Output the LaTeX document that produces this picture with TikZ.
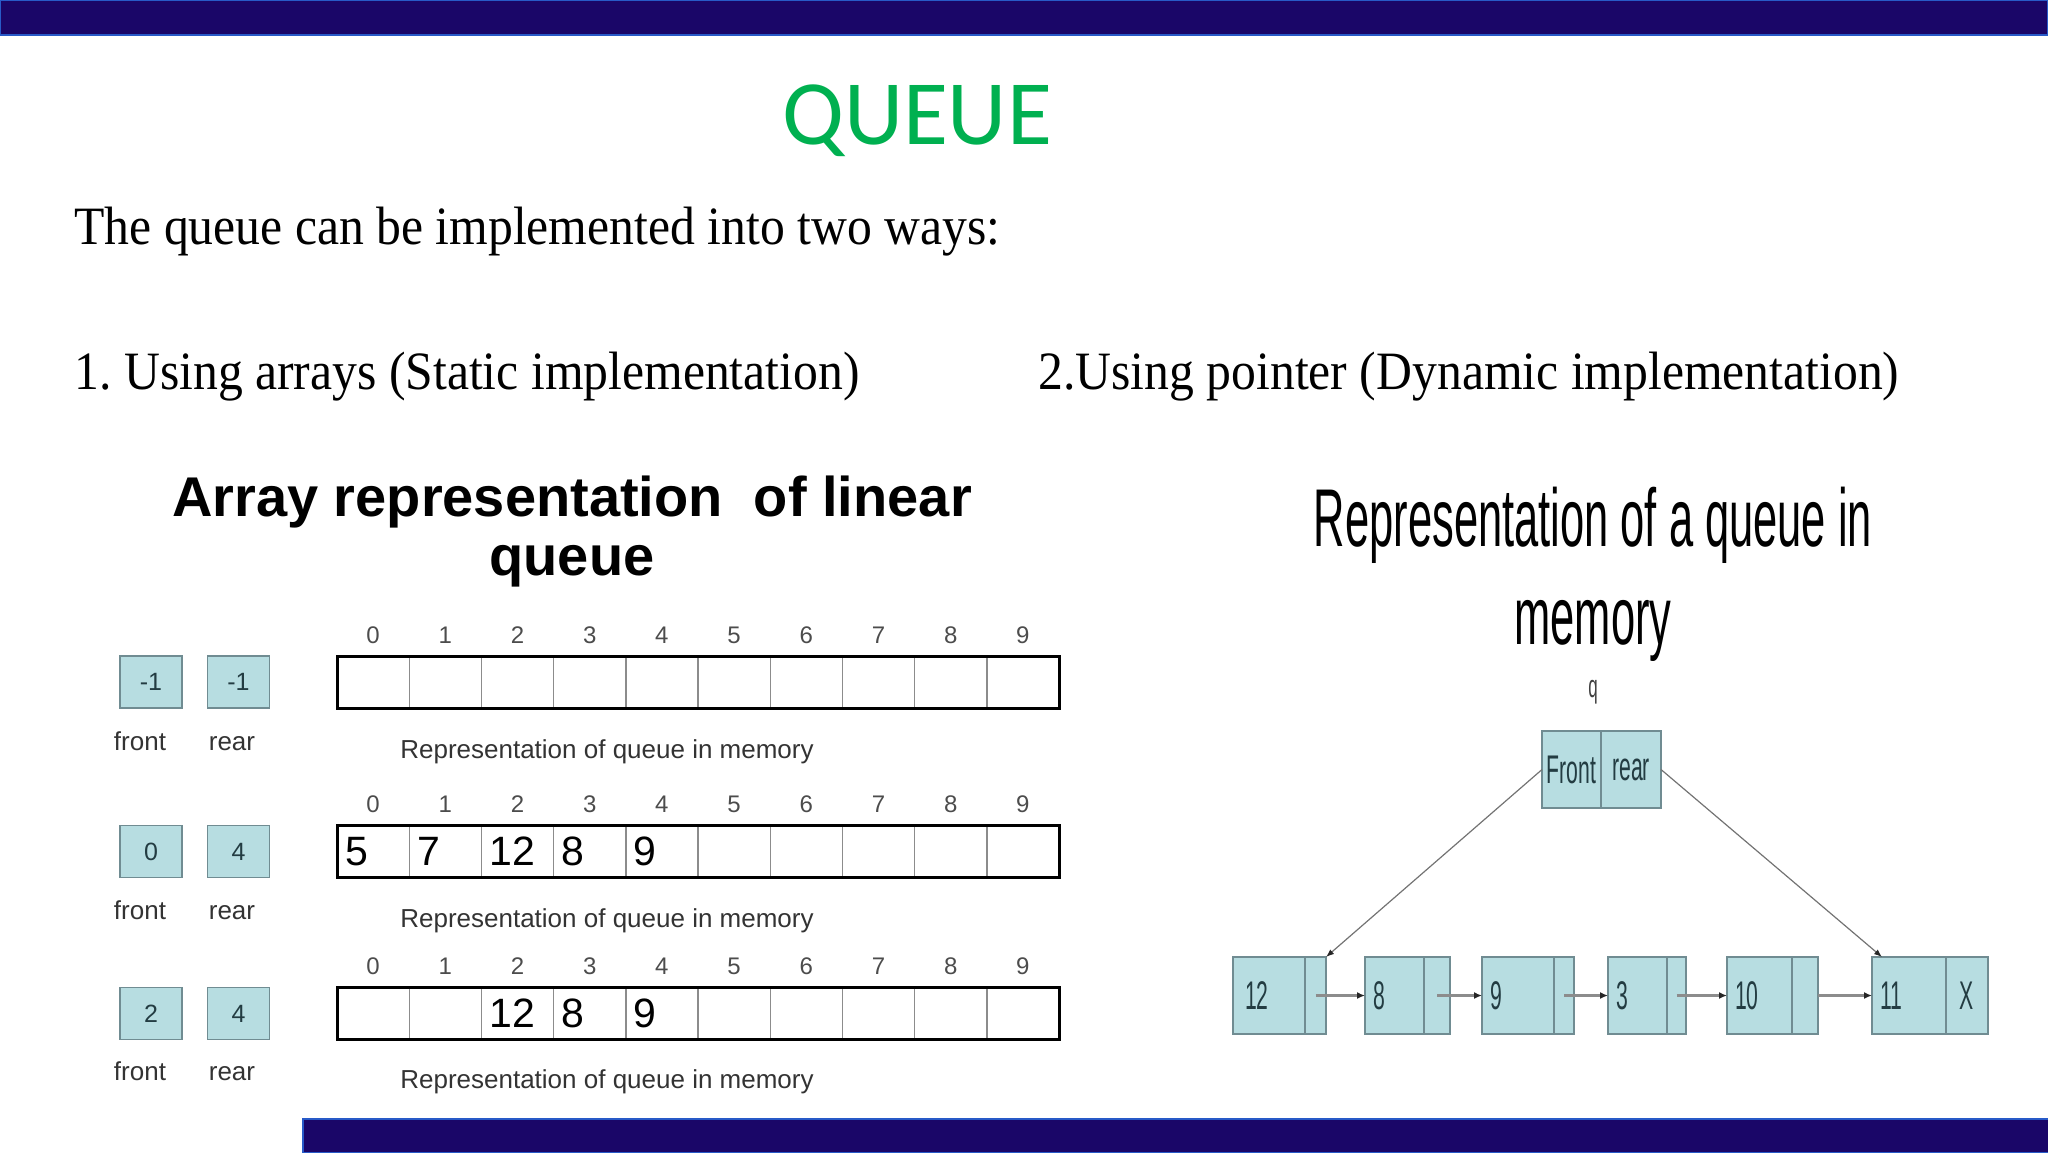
\documentclass[tikz,border=0pt]{standalone}
\usepackage{fontspec}
\setmainfont{Liberation Serif}[FakeStretch=0.92]
\newfontfamily\headfont{Carlito}
\newfontfamily\arial{Liberation Sans}
\newfontfamily\narrow{Liberation Sans}[FakeStretch=0.53]
\usetikzlibrary{positioning, arrows.meta, calc}

\definecolor{barblue}{RGB}{26,6,104}
\definecolor{baredge}{RGB}{40,90,200}
\definecolor{titlegreen}{RGB}{0,176,80}
\definecolor{cellfill}{RGB}{183,221,225}
\definecolor{celldraw}{RGB}{112,140,146}
\definecolor{celltext}{RGB}{35,60,66}

\begin{document}
\begin{tikzpicture}[
    x=0.5pt, y=-0.5pt,
    bar/.style      ={fill=barblue, draw=baredge, line width=1pt},
    heading/.style  ={font=\headfont\fontsize{46}{52}\selectfont, text=titlegreen, anchor=base, inner sep=0pt},
    bodytext/.style ={font=\fontsize{27}{32}\selectfont, anchor=base west, inner sep=0pt},
    figtitle/.style ={font=\arial\bfseries\fontsize{28}{32}\selectfont, anchor=base, inner sep=0pt},
    memtitle/.style ={font=\narrow\fontsize{41}{46}\selectfont, anchor=base, inner sep=0pt},
    cell/.style     ={rectangle, draw=black!45, line width=0.7pt, minimum height=26pt, text width=28.1pt, inner xsep=4pt, inner ysep=0pt, outer sep=0pt, align=left, font=\arial\fontsize{20.5}{24}\selectfont},
    array/.style    ={draw=black, line width=1.5pt},
    idx/.style      ={font=\arial\fontsize{12}{14}\selectfont, text=black!70, anchor=base, inner sep=0pt},
    caption/.style  ={font=\arial\fontsize{13}{15}\selectfont, text=black!80, anchor=base, inner sep=0pt},
    ptrbox/.style   ={rectangle, fill=cellfill, draw=celldraw, line width=0.9pt, minimum width=31pt, minimum height=26pt, inner sep=0pt, font=\arial\fontsize{12.5}{14}\selectfont, text=celltext},
    lcell/.style    ={rectangle, fill=cellfill, draw=celldraw, line width=0.7pt, minimum height=38.5pt, inner xsep=4pt, inner ysep=0pt, outer sep=0pt, font=\narrow\fontsize{20}{24}\selectfont, text=celltext},
    ldata/.style    ={lcell, text width=#1, align=left},
    lptr/.style     ={lcell, inner xsep=0pt, minimum width=#1},
    link/.style     ={draw=black!45, line width=1.2pt, -{Latex[length=4pt,width=3.5pt,color=black!85]}},
    diag/.style     ={draw=black!55, line width=0.6pt, -{Latex[length=4pt,width=3pt,color=black!85]}},
]
\useasboundingbox (0,0) rectangle (2048,1152);

%==================== FRAME AND TEXT ====================

\draw[bar] (0,0) rectangle (2048,35);
\draw[bar] (303,1119) rectangle (2049,1153);

\node[heading] (title) at (917,144) {QUEUE};
\node[bodytext] (intro) at (74,244) {The queue can be implemented into two ways:};
\node[bodytext] (way1) at (74,389) {1.\kern-2pt{} Using arrays (Static implementation)};
\node[bodytext] (way2) at (1038,389) {2.Using pointer (Dynamic implementation)};

%==================== ARRAY REPRESENTATION ====================

\node[figtitle] (lt1) at (572,516) {Array representation\ \ of linear};
\node[figtitle] (lt2) at (572,575) {queue};

% empty queue
\foreach \i in {0,...,9}
  \node[cell] (m1-\i) at ({373.1+72.2*\i},682) {};
% after five insertions
\foreach \i/\v in {0/5,1/7,2/12,3/8,4/9,5/{},6/{},7/{},8/{},9/{}}
  \node[cell] (m2-\i) at ({373.1+72.2*\i},851.5) {\v};
% after two deletions
\foreach \i/\v in {0/{},1/{},2/12,3/8,4/9,5/{},6/{},7/{},8/{},9/{}}
  \node[cell] (m3-\i) at ({373.1+72.2*\i},1013.5) {\v};

\foreach \r in {1,2,3} {
  \draw[array] (m\r-0.north west) rectangle (m\r-9.south east);
  \foreach \i in {0,...,9}
    \node[idx] (i\r-\i) at ([yshift=6.5pt]m\r-\i.north) {\i};
}

\node[caption] (cap1) at (607,758)  {Representation of queue in memory};
\node[caption] (cap2) at (607,927)  {Representation of queue in memory};
\node[caption] (cap3) at (607,1088) {Representation of queue in memory};

% front / rear indices
\node[ptrbox] (f1) at (151,682)    {-1};
\node[ptrbox] (r1) at (238.5,682)  {-1};
\node[ptrbox] (f2) at (151,851.5)  {0};
\node[ptrbox] (r2) at (238.5,851.5) {4};
\node[ptrbox] (f3) at (151,1013.5) {2};
\node[ptrbox] (r3) at (238.5,1013.5) {4};

\node[caption] (fl1) at (140,750)  {front};
\node[caption] (rl1) at (232,750)  {rear};
\node[caption] (fl2) at (140,919)  {front};
\node[caption] (rl2) at (232,919)  {rear};
\node[caption] (fl3) at (140,1080) {front};
\node[caption] (rl3) at (232,1080) {rear};

%==================== LINKED REPRESENTATION ====================

\node[memtitle] (rt1) at (1593,546) {Representation of a queue in};
\node[memtitle] (rt2) at (1593,644) {memory};
\node[memtitle, font=\narrow\fontsize{16}{18}\selectfont, text=black!75] (q) at (1593,697) {q};

\node[lcell, minimum width=29.5pt, inner xsep=0pt] (qf) at (1571.5,769.5) {Front};
\node[lcell, minimum width=30pt, inner xsep=0pt, right=0pt of qf] (qr) {\hfill rear};

\node[ldata=28pt]   (d1) at (1269,995.5)   {\hspace{2pt}12};
\node[lptr=10.5pt, right=0pt of d1] (p1) {};
\node[ldata=21.5pt] (d2) at (1394.5,995.5) {8};
\node[lptr=13pt,   right=0pt of d2] (p2) {};
\node[ldata=28pt]   (d3) at (1518,995.5)   {9};
\node[lptr=10pt,   right=0pt of d3] (p3) {};
\node[ldata=21.5pt] (d4) at (1637.5,995.5) {3};
\node[lptr=9.5pt,  right=0pt of d4] (p4) {};
\node[ldata=24.5pt] (d5) at (1759.5,995.5) {10};
\node[lptr=13pt,   right=0pt of d5] (p5) {};
\node[ldata=29pt]   (d6) at (1909,995.5)   {11};
\node[lptr=21pt,   right=0pt of d6] (p6) {X};

\draw[link] (p1.center) -- (d2.west);
\draw[link] (p2.center) -- (d3.west);
\draw[link] (p3.center) -- (d4.west);
\draw[link] (p4.center) -- (d5.west);
\draw[link] (p5.east)   -- (d6.west);

\draw[diag] (qf.west) -- (p1.north east);
\draw[diag] (qr.east) -- ([xshift=5pt]d6.north west);

\end{tikzpicture}
\end{document}
